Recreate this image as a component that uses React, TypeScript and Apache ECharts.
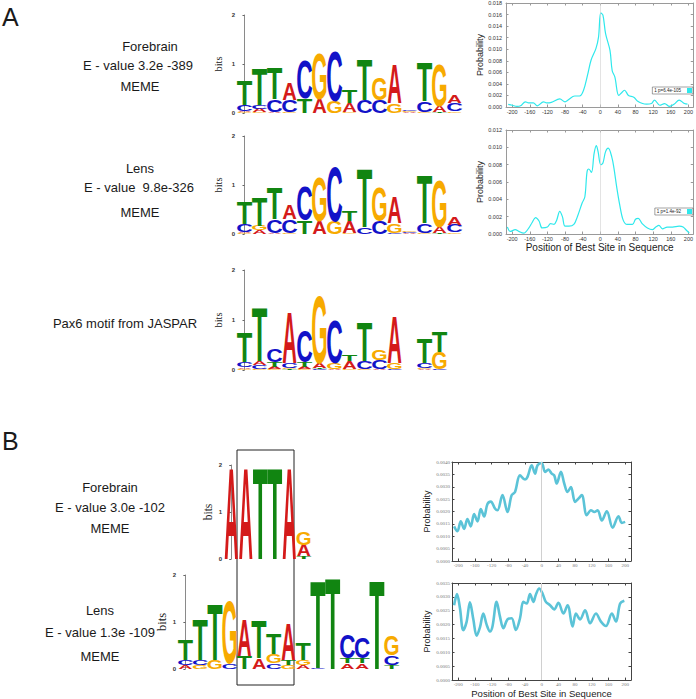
import React, { useEffect, useRef } from "react";
import * as echarts from "echarts";

const SANS = '"Liberation Sans", Arial, Helvetica, sans-serif';
const SERIF = '"Liberation Serif", "Times New Roman", serif';

// ---------- tick labels ----------
const xTickValues = [-200, -160, -120, -80, -40, 0, 40, 80, 120, 160, 200];

// ---------- A: site distribution (Forebrain) ----------
const posA1 = [-209, -200, -189, -181, -170, -163, -152, -143, -129, -122, -111, -92, -80, -73, -58, -47, -38, -29, -21, -10, -4, 1, 6, 12, 22, 27, 33, 42, 50, 55, 64, 76, 85, 96, 105, 116, 123, 135, 146, 157, 168, 179, 191, 198];
const probA1 = [0.00046, 0.0003, 0.0001, 0.0002, 0.0009, 0.0007, 0.0007, 0.0002, 0.0009, 0.0007, 0.0008, 0.0014, 0.0009, 0.0012, 0.0019, 0.0019, 0.0029, 0.0055, 0.0081, 0.0101, 0.0121, 0.0163, 0.0159, 0.0127, 0.0098, 0.0063, 0.0052, 0.002, 0.0026, 0.0029, 0.002, 0.0017, 0.001, 0.0006, 0.0005, 0.0006, 0.0012, 0.0003, 0.0006, 0.0001, 0.0005, 0.0012, 0.0006, 0.0005];

// ---------- A: site distribution (Lens) ----------
const posA2 = [-211, -204, -193, -185, -174, -162, -155, -147, -139, -132, -120, -113, -105, -99, -92, -86, -80, -71, -60, -52, -41, -35, -30, -26, -20, -14, -9, -5, 1, 6, 12, 18, 26, 31, 37, 44, 52, 61, 73, 80, 86, 95, 107, 118, 126, 133, 141, 152, 164, 179, 188, 196, 202];
const probA2 = [0.0008, 0.0003, 0.0005, 0.0003, 0.0001, 0.0007, 0.0013, 0.0019, 0.0015, 0.0007, 0.0008, 0.0012, 0.0011, 0.0016, 0.0026, 0.002, 0.0009, 0.0009, 0.0011, 0.002, 0.0036, 0.0043, 0.0072, 0.0075, 0.0071, 0.0093, 0.0102, 0.0095, 0.008, 0.0082, 0.0095, 0.0099, 0.0089, 0.0076, 0.0055, 0.0034, 0.0016, 0.0011, 0.0011, 0.0017, 0.0018, 0.0012, 0.0007, 0.0005, 0.0008, 0.001, 0.0006, 0.0008, 0.0008, 0.0009, 0.0008, 0.0004, 0.0001];

// ---------- B: site distribution (Forebrain) ----------
const posB1 = [-210, -202, -194, -186, -178, -170, -162, -154, -146, -138, -130, -122, -112, -106, -94, -82, -72, -64, -52, -40, -34, -24, -16, -10, 0, 8, 16, 24, 30, 36, 46, 54, 62, 70, 80, 88, 96, 108, 118, 126, 134, 144, 156, 170, 184, 192, 200];
const probB1 = [0.0014, 0.0012, 0.0016, 0.0013, 0.0017, 0.0014, 0.0019, 0.0016, 0.0021, 0.0018, 0.0023, 0.0024, 0.00212, 0.00205, 0.00266, 0.00198, 0.00266, 0.00279, 0.00346, 0.00329, 0.0034, 0.00387, 0.00353, 0.00387, 0.00396, 0.0036, 0.00369, 0.00353, 0.00346, 0.00313, 0.0036, 0.00313, 0.00279, 0.00299, 0.00239, 0.00252, 0.00266, 0.00185, 0.00205, 0.00198, 0.00205, 0.00164, 0.00201, 0.00135, 0.00181, 0.00154, 0.00158];

// ---------- B: site distribution (Lens) ----------
const posB2 = [-210, -203, -196, -188, -180, -172, -164, -156, -148, -140, -132, -124, -118, -108, -100, -92, -82, -72, -62, -52, -44, -36, -28, -20, -14, -6, 2, 10, 20, 30, 40, 52, 62, 74, 82, 92, 104, 116, 130, 142, 154, 168, 178, 188, 198];
const probB2 = [0.0027, 0.0031, 0.0026, 0.0018, 0.0021, 0.0028, 0.0022, 0.0016, 0.0019, 0.0024, 0.002, 0.00175, 0.00193, 0.00282, 0.00229, 0.00187, 0.00219, 0.00223, 0.00181, 0.00223, 0.00282, 0.00276, 0.0031, 0.00282, 0.00308, 0.0033, 0.00312, 0.00282, 0.0027, 0.00255, 0.00279, 0.0024, 0.0027, 0.00193, 0.0024, 0.00219, 0.00252, 0.00205, 0.0024, 0.00211, 0.00195, 0.0024, 0.00211, 0.00276, 0.00286];

const legendA1 = "1 p=6.4e-105";
const legendA2 = "1 p=1.4e-92";

// ---------- sequence logos: columns, letters stacked bottom -> top [letter, bits] ----------
type Col = [string, number][];
const logoForebrainA: Col[] = [
  [["G", 0.02], ["A", 0.03], ["C", 0.12], ["T", 0.5]],
  [["G", 0.02], ["A", 0.07], ["C", 0.07], ["T", 0.75]],
  [["A", 0.02], ["C", 0.25], ["T", 0.64]],
  [["G", 0.02], ["C", 0.25], ["A", 0.34]],
  [["T", 0.3], ["C", 0.78]],
  [["A", 0.3], ["G", 0.95]],
  [["G", 0.24], ["C", 1.04]],
  [["G", 0.02], ["A", 0.18], ["T", 0.27]],
  [["C", 0.27], ["T", 0.84]],
  [["C", 0.27], ["G", 0.47]],
  [["G", 0.2], ["A", 0.8]],
  [["A", 0.02], ["G", 0.03], ["C", 0.03]],
  [["G", 0.02], ["C", 0.22], ["T", 0.81]],
  [["T", 0.02], ["A", 0.12], ["G", 0.87]],
  [["G", 0.03], ["C", 0.17], ["A", 0.17]],
];
const logoLensA: Col[] = [
  [["G", 0.02], ["A", 0.02], ["C", 0.17], ["T", 0.45]],
  [["A", 0.08], ["G", 0.1], ["T", 0.59]],
  [["A", 0.02], ["C", 0.28], ["T", 0.66]],
  [["G", 0.02], ["C", 0.28], ["A", 0.29]],
  [["T", 0.28], ["C", 0.71]],
  [["A", 0.28], ["G", 0.92]],
  [["G", 0.27], ["C", 1.13]],
  [["G", 0.02], ["A", 0.25], ["T", 0.22]],
  [["C", 0.14], ["T", 1.22]],
  [["C", 0.27], ["G", 0.69]],
  [["C", 0.02], ["G", 0.2], ["A", 0.54]],
  [["A", 0.02], ["C", 0.03], ["G", 0.03]],
  [["G", 0.02], ["C", 0.2], ["T", 1.01]],
  [["T", 0.02], ["A", 0.14], ["G", 0.97]],
  [["G", 0.03], ["C", 0.16], ["A", 0.16]],
];
const logoJaspar: Col[] = [
  [["G", 0.03], ["A", 0.03], ["C", 0.1], ["T", 0.61]],
  [["G", 0.02], ["C", 0.07], ["A", 0.08], ["T", 1.08]],
  [["G", 0.02], ["A", 0.04], ["T", 0.1], ["C", 0.27]],
  [["T", 0.02], ["G", 0.02], ["C", 0.1], ["A", 1.04]],
  [["G", 0.02], ["A", 0.04], ["T", 0.1], ["C", 0.63]],
  [["C", 0.02], ["T", 0.02], ["A", 0.09], ["G", 1.38]],
  [["A", 0.02], ["G", 0.13], ["C", 0.87]],
  [["G", 0.02], ["A", 0.15], ["T", 0.13]],
  [["G", 0.02], ["C", 0.15], ["T", 0.8]],
  [["A", 0.02], ["C", 0.18], ["G", 0.2]],
  [["C", 0.02], ["G", 0.13], ["A", 0.96]],
  [],
  [["A", 0.02], ["G", 0.02], ["C", 0.1], ["T", 0.5]],
  [["C", 0.02], ["G", 0.33], ["T", 0.43]],
];
const logoForebrainB: Col[] = [
  [["A", 1.98]],
  [["A", 1.98]],
  [["T", 1.98]],
  [["T", 1.98]],
  [["A", 1.98]],
  [["T", 0.05], ["A", 0.25], ["G", 0.27]],
];
const logoLensB: Col[] = [
  [["A", 0.09], ["C", 0.1], ["T", 0.45]],
  [["G", 0.09], ["C", 0.1], ["T", 0.87]],
  [["G", 0.2], ["T", 1.2]],
  [["C", 0.12], ["G", 1.36]],
  [["T", 0.27], ["A", 0.78]],
  [["A", 0.23], ["T", 0.82]],
  [["C", 0.12], ["G", 0.2], ["T", 0.45]],
  [["G", 0.09], ["T", 0.1], ["A", 0.78]],
  [["A", 0.09], ["G", 0.1], ["T", 0.35]],
  [["C", 0.03], ["T", 1.88]],
  [["T", 1.98]],
  [["A", 0.12], ["T", 0.12], ["C", 0.52]],
  [["A", 0.12], ["T", 0.12], ["C", 0.45]],
  [["T", 1.91]],
  [["T", 0.09], ["C", 0.2], ["G", 0.42]],
];

// ---------- left-side labels ----------
const panelLetters = ["A", "B"];
const labelsForebrainA = ["Forebrain", "E - value 3.2e -389", "MEME"];
const labelsLensA = ["Lens", "E - value  9.8e-326", "MEME"];
const labelJaspar = "Pax6 motif from JASPAR";
const labelsForebrainB = ["Forebrain", "E - value 3.0e -102", "MEME"];
const labelsLensB = ["Lens", "E - value 1.3e -109", "MEME"];
const xAxisTitle = "Position of Best Site in Sequence";

const LETTERS = "ACGT";
const LETTER_COLOR: Record<string, string> = { A: "#d41a1a", C: "#1212c8", G: "#f7aa00", T: "#118511" };
const LETTER_INK: Record<string, number> = { A: 0.72, C: 0.635, G: 0.69, T: 0.57 };

function flattenLogo(cols: Col[]) {
  const out: number[][] = [];
  cols.forEach((col, i) => {
    let base = 0;
    col.forEach(([l, h]) => {
      out.push([i, base, h, LETTERS.indexOf(l)]);
      base += h;
    });
  });
  return out;
}

function renderLetter(params: any, api: any) {
  const i = api.value(0);
  const base = api.value(1);
  const h = api.value(2);
  const letter = LETTERS[api.value(3)];
  const p0 = api.coord([i, base]);
  const p1 = api.coord([i, base + h]);
  const colW = api.size([1, 0])[0];
  const hp = p0[1] - p1[1];
  if (hp < 0.2) return null;
  const F = 100;
  const sx = (colW * 0.97) / (LETTER_INK[letter] * F);
  const sy = hp / (0.716 * F);
  return {
    type: "text",
    x: p0[0],
    y: (p0[1] + p1[1]) / 2 + 0.0115 * F * sy,
    scaleX: sx,
    scaleY: sy,
    silent: true,
    style: {
      text: letter,
      x: 0,
      y: 0,
      fill: LETTER_COLOR[letter],
      font: `bold ${F}px "Liberation Sans", Arial, sans-serif`,
      align: "center",
      verticalAlign: "middle",
    },
  };
}

function buildOption() {
  const lineCharts = [
    { pos: posA1, val: probA1, grid: { left: 506, top: 3, width: 189, height: 104 }, xMin: -214, xMax: 211, yMax: 0.018, yInt: 0.002, digits: 3, kind: "A", name: legendA1, xTitle: false },
    { pos: posA2, val: probA2, grid: { left: 506, top: 130, width: 189, height: 104 }, xMin: -214, xMax: 211, yMax: 0.012, yInt: 0.002, digits: 3, kind: "A", name: legendA2, xTitle: true },
    { pos: posB1, val: probB1, grid: { left: 452, top: 462, width: 179, height: 99 }, xMin: -215, xMax: 214, yMax: 0.004, yInt: 0.0005, digits: 4, kind: "B", name: "B1", xTitle: false },
    { pos: posB2, val: probB2, grid: { left: 452, top: 583, width: 179, height: 98 }, xMin: -215, xMax: 214, yMax: 0.0035, yInt: 0.0005, digits: 4, kind: "B", name: "B2", xTitle: true },
  ];
  const logos = [
    { cols: logoForebrainA, grid: { left: 237, top: 15, width: 225, height: 98 }, bitsSize: 10.5, bitsGap: 13 },
    { cols: logoLensA, grid: { left: 237, top: 136, width: 225, height: 98 }, bitsSize: 10.5, bitsGap: 13 },
    { cols: logoJaspar, grid: { left: 237, top: 270, width: 210, height: 100 }, bitsSize: 10.5, bitsGap: 13 },
    { cols: logoForebrainB, grid: { left: 224, top: 465, width: 87, height: 94 }, bitsSize: 11.5, bitsGap: 10 },
    { cols: logoLensB, grid: { left: 178, top: 575, width: 221, height: 94 }, bitsSize: 12.5, bitsGap: 5 },
  ];

  const grid: any[] = [];
  const xAxis: any[] = [];
  const yAxis: any[] = [];
  const series: any[] = [];

  lineCharts.forEach((c) => {
    const isA = c.kind === "A";
    const frame = isA ? "#9a9a9a" : "#444";
    const labelStyle = isA
      ? { fontSize: 5.5, fontFamily: SANS, color: "#333" }
      : { fontSize: 5, fontFamily: SERIF, color: "#777" };
    grid.push(c.grid);
    const gi = grid.length - 1;
    xAxis.push({
      gridIndex: gi, type: "value", min: c.xMin, max: c.xMax, position: "bottom",
      axisLine: { show: true, onZero: false, lineStyle: { color: frame, width: 1 } },
      axisTick: { show: true, inside: true, length: 2.5, customValues: xTickValues, lineStyle: { color: frame } },
      axisLabel: { customValues: xTickValues, margin: 2, ...labelStyle },
      splitLine: { show: false },
      name: c.xTitle ? xAxisTitle : "",
      nameLocation: "middle",
      nameGap: isA ? 8 : 7,
      nameTextStyle: { fontFamily: SANS, fontSize: isA ? 10 : 9.5, color: "#222" },
    });
    const xb = xAxis.length - 1;
    xAxis.push({
      gridIndex: gi, type: "value", min: c.xMin, max: c.xMax, position: "top",
      axisLine: { show: true, onZero: false, lineStyle: { color: frame, width: 1 } },
      axisTick: { show: true, inside: true, length: 2.5, customValues: xTickValues, lineStyle: { color: frame } },
      axisLabel: { show: false },
      splitLine: { show: false },
    });
    yAxis.push({
      gridIndex: gi, type: "value", min: 0, max: c.yMax, interval: c.yInt, position: "left",
      axisLine: { show: true, onZero: false, lineStyle: { color: frame, width: 1 } },
      axisTick: { show: true, inside: true, length: 2.5, lineStyle: { color: frame } },
      axisLabel: { margin: isA ? 4 : 2, formatter: (v: number) => v.toFixed(c.digits), ...labelStyle },
      splitLine: { show: false },
      name: "Probability",
      nameLocation: "middle",
      nameGap: isA ? 17 : 21,
      nameTextStyle: { fontFamily: SANS, fontSize: 9, color: "#222" },
    });
    const yl = yAxis.length - 1;
    yAxis.push({
      gridIndex: gi, type: "value", min: 0, max: c.yMax, interval: c.yInt, position: "right",
      axisLine: { show: true, onZero: false, lineStyle: { color: frame, width: 1 } },
      axisTick: { show: true, inside: true, length: 2.5, lineStyle: { color: frame } },
      axisLabel: { show: false },
      splitLine: { show: false },
    });
    const color = isA ? "#2ee8ec" : "#5bc3d7";
    series.push({
      type: "line",
      name: c.name,
      xAxisIndex: xb,
      yAxisIndex: yl,
      data: c.pos.map((p, i) => [p, c.val[i]]),
      showSymbol: false,
      smooth: 0.35,
      lineStyle: { color, width: isA ? 1.2 : 2.6 },
      itemStyle: { color },
      silent: true,
      markLine: {
        silent: true,
        symbol: ["none", "none"],
        label: { show: false },
        lineStyle: { color: "#d0d0d0", width: isA ? 0.6 : 1, type: "solid" },
        data: [{ xAxis: 0 }],
      },
    });
  });

  logos.forEach((lg) => {
    grid.push(lg.grid);
    const gi = grid.length - 1;
    xAxis.push({ gridIndex: gi, type: "value", min: -0.5, max: lg.cols.length - 0.5, show: false, splitLine: { show: false } });
    const xi = xAxis.length - 1;
    yAxis.push({
      gridIndex: gi, type: "value", min: 0, max: 2, interval: 1,
      axisLine: { show: true, lineStyle: { color: "#8a8a8a", width: 1 } },
      axisTick: { show: true, length: 2, lineStyle: { color: "#666" } },
      axisLabel: { fontSize: 6, fontWeight: "bold", fontFamily: SANS, color: "#333", margin: 2 },
      splitLine: { show: false },
      name: "bits",
      nameLocation: "middle",
      nameRotate: 90,
      nameGap: lg.bitsGap,
      nameTextStyle: { fontFamily: SERIF, fontSize: lg.bitsSize, color: "#222" },
    });
    const yi = yAxis.length - 1;
    series.push({
      type: "custom",
      xAxisIndex: xi,
      yAxisIndex: yi,
      data: flattenLogo(lg.cols),
      renderItem: renderLetter,
      clip: false,
      silent: true,
    });
  });

  const text = (t: string, x: number, y: number, size: number, align = "center") => ({
    type: "text",
    silent: true,
    style: { text: t, x, y, font: `${size}px ${SANS}`, fill: "#1a1a1a", align, verticalAlign: "middle" },
  });

  const graphic: any[] = [
    text(panelLetters[0], 2, 17, 25, "left"),
    text(labelsForebrainA[0], 150, 46, 13),
    text(labelsForebrainA[1], 138, 65, 13),
    text(labelsForebrainA[2], 140, 86, 13),
    text(labelsLensA[0], 140, 168, 13),
    text(labelsLensA[1], 139, 187, 13),
    text(labelsLensA[2], 140, 212, 13),
    text(labelJaspar, 125, 323, 13),
    text(panelLetters[1], 2, 441, 25, "left"),
    text(labelsForebrainB[0], 110, 487, 13),
    text(labelsForebrainB[1], 110, 507, 13),
    text(labelsForebrainB[2], 110, 528, 13),
    text(labelsLensB[0], 100, 610, 13),
    text(labelsLensB[1], 100, 632, 13),
    text(labelsLensB[2], 100, 656, 13),
    {
      type: "rect",
      silent: true,
      shape: { x: 237, y: 450, width: 57, height: 235 },
      style: { fill: "none", stroke: "#222", lineWidth: 1 },
    },
  ];

  const legendBase = {
    orient: "horizontal",
    align: "right",
    icon: "rect",
    itemWidth: 5,
    itemHeight: 5,
    itemGap: 0,
    padding: [1, 1, 1, 2],
    borderColor: "#444",
    borderWidth: 0.5,
    backgroundColor: "#fff",
    selectedMode: false,
    textStyle: { fontSize: 4.5, fontFamily: SANS, color: "#222", padding: [0, 1, 0, 0] },
  };

  return {
    animation: false,
    backgroundColor: "#ffffff",
    grid,
    xAxis,
    yAxis,
    series,
    graphic,
    legend: [
      { ...legendBase, data: [legendA1], right: 3, top: 87 },
      { ...legendBase, data: [legendA2], right: 3, top: 208 },
    ],
  };
}

export default function App() {
  const ref = useRef<HTMLDivElement>(null);
  useEffect(() => {
    if (!ref.current) return;
    const chart = echarts.init(ref.current, null, { renderer: "svg" });
    chart.setOption(buildOption() as any);
    return () => chart.dispose();
  }, []);
  return (
    <div
      ref={ref}
      style={{ position: "absolute", left: 0, top: 0, width: 696, height: 699, background: "#fff" }}
    />
  );
}
